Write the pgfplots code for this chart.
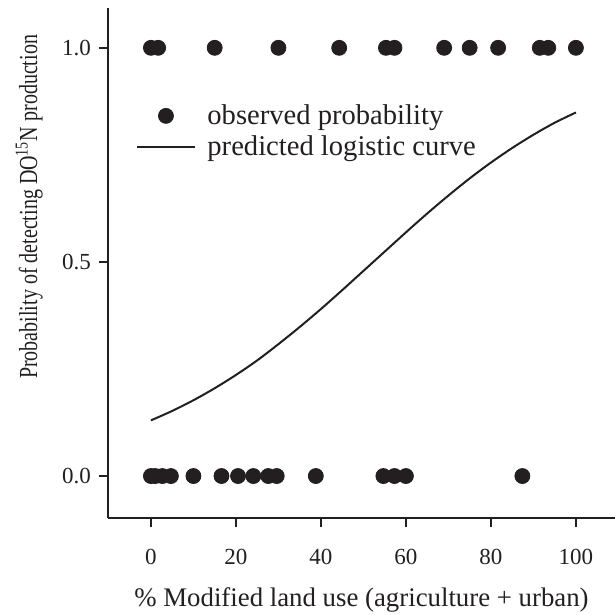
\documentclass[border=0pt]{standalone}
\usepackage{fontspec}
\setmainfont{Liberation Serif}
\usepackage{graphicx}
\usepackage{pgfplots}
\pgfplotsset{compat=1.18}
\definecolor{ink}{HTML}{231F20}

\begin{document}
\begin{tikzpicture}
\begin{axis}[
    scale only axis,
    width=253.5pt, height=255pt,
    xmin=-10.1, xmax=109.2,
    ymin=-0.098, ymax=1.093,
    axis lines=left,
    axis line style={-, ink, line width=0.75pt},
    tick align=outside,
    major tick length=4.5pt,
    tick style={ink, line width=0.75pt},
    xtick={0,20,40,60,80,100},
    ytick={0,0.5,1},
    /pgf/number format/assume math mode=true,
    yticklabel style={/pgf/number format/fixed, /pgf/number format/fixed zerofill,
        /pgf/number format/precision=1, xshift=-0.5pt},
    xticklabel style={yshift=-7.5pt},
    tick label style={font=\fontsize{11.5}{13}\selectfont, text=ink},
    xlabel={\% Modified land use (agriculture + urban)},
    ylabel={\scalebox{1}[1.3]{Probability of detecting DO\textsuperscript{15}N production}},
    xlabel style={font=\fontsize{13.4}{15}\selectfont, text=ink,
        at={(axis description cs:0.5,-0.174)}, anchor=base},
    ylabel style={font=\fontsize{10}{12}\selectfont, text=ink,
        at={(axis description cs:-0.14,0.61)}, anchor=base},
    legend style={draw=none, fill=none, at={(axis cs:-3.5,0.878)}, anchor=north west,
        font=\fontsize{14.3}{16}\selectfont, text=ink, cells={anchor=west},
        row sep=0pt, inner sep=0pt},
    legend image code/.code={\path[draw=none, fill=none] (0pt,0pt) -- (33pt,0pt);
        \draw[mark repeat=2,mark phase=2,#1]
        plot coordinates {(0pt,0pt) (14.25pt,0pt) (28.5pt,0pt)};},
    clip=false,
]
% observed detections (1) and non-detections (0)
\addplot[only marks, mark=*, mark size=3.75pt, ink, fill=ink] coordinates {
    (0,1) (1.7,1) (15,1) (30,1) (44.3,1) (55.3,1) (57.3,1) (69,1)
    (75,1) (81.7,1) (91.5,1) (93.5,1) (100,1)
    (0,0) (1,0) (2.7,0) (4.7,0) (10,0) (16.6,0) (20.5,0) (24.1,0)
    (27.6,0) (29.6,0) (38.8,0) (54.7,0) (57.3,0) (60,0) (87.4,0)
};
\addlegendentry{observed probability}
% fitted logistic curve
\addplot[ink, line width=1pt, smooth] coordinates {
    (0,0.130) (5,0.152) (10,0.177) (15,0.205) (20,0.236) (25,0.270)
    (30,0.308) (35,0.348) (40,0.390) (45,0.434) (50,0.479) (55,0.524)
    (60,0.569) (65,0.613) (70,0.655) (75,0.695) (80,0.732) (85,0.766)
    (90,0.797) (95,0.825) (100,0.849)
};
\addlegendentry{predicted logistic curve}
\end{axis}
\pgfresetboundingbox
\path ([xshift=-54pt,yshift=-48.5pt]current axis.south west) rectangle ++(307.5pt,307.5pt);
\end{tikzpicture}
\end{document}
